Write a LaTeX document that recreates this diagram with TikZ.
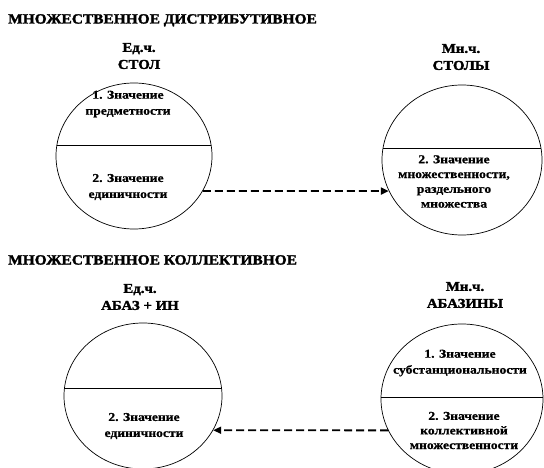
\documentclass[tikz,border=0pt]{standalone}
\usepackage{fontspec}
\setmainfont{Liberation Serif}
\newfontface\heavy{Liberation Serif Bold}[FakeBold=2, FakeStretch=1.1]
\newfontface\bodyf{Liberation Serif Bold}[FakeBold=0.8, FakeStretch=1.13]
\usetikzlibrary{shapes.geometric,arrows.meta}
\tikzset{
  ttl/.style={font=\heavy\fontsize{14}{16}\selectfont, anchor=base west, inner sep=0pt},
  lbl/.style={font=\heavy\fontsize{13.5}{17}\selectfont, align=center, inner sep=0pt},
  txt/.style={font=\bodyf\fontsize{12}{16}\selectfont, align=center, inner sep=0pt},
  circ/.style={draw, ellipse, inner sep=0pt, line width=0.7pt},
  divl/.style={line width=0.7pt},
  arr/.style={-{Triangle[length=8pt,width=7pt]}, dash pattern=on 8pt off 4pt, line width=1.8pt}
}
\begin{document}
\begin{tikzpicture}[x=1pt,y=-1pt]
\useasboundingbox (0,0) rectangle (544,468);
% titles
\node[ttl] (t1) at (8,23.5) {МНОЖЕСТВЕННОЕ ДИСТРИБУТИВНОЕ};
\node[ttl] (t2) at (8,264.5) {МНОЖЕСТВЕННОЕ КОЛЛЕКТИВНОЕ};
% circles
\node[circ, minimum width=156pt, minimum height=146pt] (A) at (134,156) {};
\node[circ, minimum width=160pt, minimum height=150pt] (B) at (462,160) {};
\node[circ, minimum width=158pt, minimum height=146pt] (C) at (143,396) {};
\node[circ, minimum width=162pt, minimum height=150pt] (D) at (462,399) {};
% dividers
\draw[divl] ([shift={(-77.1,-11)}]A.center) -- ([shift={(77.1,-11)}]A.center);
\draw[divl] ([shift={(-79,-12)}]B.center) -- ([shift={(79,-12)}]B.center);
\draw[divl] ([shift={(-78.6,-7.4)}]C.center) -- ([shift={(78.6,-7.4)}]C.center);
\draw[divl] ([shift={(-81,-2)}]D.center) -- ([shift={(81,-2)}]D.center);
% labels above
\node[lbl] (la) at (139,56) {Ед.ч.\\СТОЛ};
\node[lbl] (lb) at (461,57) {Мн.ч.\\СТОЛЫ};
\node[lbl] (lc) at (140,297) {Ед.ч.\\АБАЗ + ИН};
\node[lbl] (ld) at (465,295) {Мн.ч.\\АБАЗИНЫ};
% texts inside
\node[txt] (a1) at (128,104) {1. Значение\\предметности};
\node[txt] (a2) at (128,187) {2. Значение\\единичности};
\node[txt, font=\bodyf\fontsize{12}{14.8}\selectfont] (b2) at (454,181.5) {2. Значение\\множественности,\\раздельного\\множества};
\node[txt] (c2) at (144,426) {2. Значение\\единичности};
\node[txt] (d1) at (460,363) {1. Значение\\субстанциональности};
\node[txt, font=\bodyf\fontsize{12}{14.6}\selectfont] (d2) at (464,430.5) {2. Значение\\коллективной\\множественности};
% connectors
\draw[arr] (A.-27) -- (B.-157);
\draw[arr] (D.-157) -- (C.-26);
\end{tikzpicture}
\end{document}
